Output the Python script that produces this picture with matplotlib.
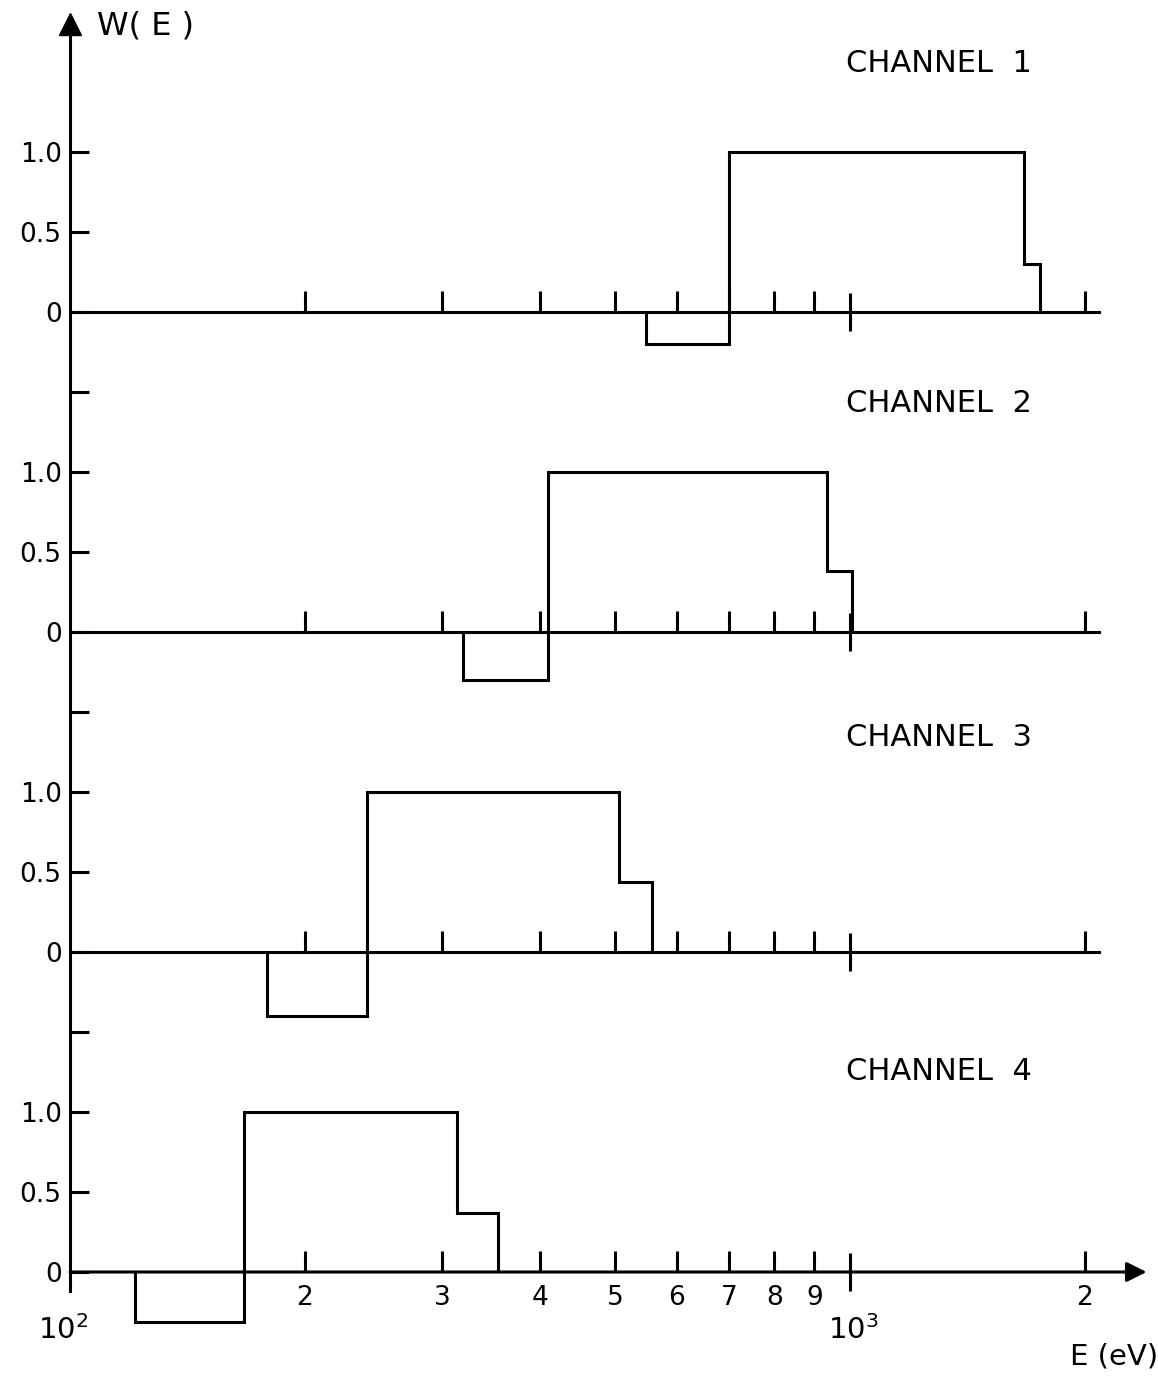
import matplotlib.pyplot as plt

plt.rcParams['font.family'] = ['DejaVu Sans']

channels = ['CHANNEL  1', 'CHANNEL  2', 'CHANNEL  3', 'CHANNEL  4']

# bin edges (eV) and weights of each channel's response W(E)
ch1_edges = [547, 700, 1670, 1750]
ch1_w = [-0.2, 1.0, 0.3]
ch2_edges = [319, 410, 934, 1005]
ch2_w = [-0.3, 1.0, 0.38]
ch3_edges = [179, 240, 505, 558]
ch3_w = [-0.4, 1.0, 0.44]
ch4_edges = [121, 167, 313, 354]
ch4_w = [-0.31, 1.0, 0.37]

edges = [ch1_edges, ch2_edges, ch3_edges, ch4_edges]
weights = [ch1_w, ch2_w, ch3_w, ch4_w]

minor_E = [200, 300, 400, 500, 600, 700, 800, 900, 2000]
minor_lab = ['2', '3', '4', '5', '6', '7', '8', '9', '2']
ytick_vals = [0, 0.5, 1.0]
ytick_lab = ['0', '0.5', '1.0']

fig = plt.figure(figsize=(11.58, 13.76), dpi=100)
ax = fig.add_axes([0, 0, 1, 1])
ax.set_xscale('log')
ax.set_xlim(10 ** (2 - 70 / 780), 10 ** (2 + 1088 / 780))
ax.set_ylim(-0.65, 7.95)

offsets = [6, 4, 2, 0]
title_dy = [1.55, 1.43, 1.34, 1.25]
lw = 2.2

for i, off in enumerate(offsets):
    w = [v + off for v in weights[i]]
    ax.stairs(w, edges[i], baseline=off, color='k', lw=lw)
    if off > 0:
        ax.plot([100, 2084], [off, off], color='k', lw=lw)
    else:
        ax.annotate('', xy=(2400, 0), xytext=(100, 0),
                    arrowprops=dict(arrowstyle='-|>', color='k', lw=lw,
                                    mutation_scale=30, shrinkA=0, shrinkB=0))
    ax.vlines(minor_E, off, off + 0.13, color='k', lw=lw)
    ax.vlines(1000, off - 0.12, off + 0.12, color='k', lw=lw)
    ax.text(1300, off + title_dy[i], channels[i], fontsize=22,
            ha='center', va='center')

# y axis with per-channel ticks
yt, yl = [], []
for off in offsets:
    if off > 0:
        yt.append(off - 0.5)
        yl.append('')
    for v, l in zip(ytick_vals, ytick_lab):
        yt.append(off + v)
        yl.append(l)
ax.set_yticks(yt, yl)
for s in ['top', 'right', 'bottom']:
    ax.spines[s].set_visible(False)
ax.spines['left'].set_position(('data', 100))
ax.spines['left'].set_bounds(-0.12, 7.8)
ax.spines['left'].set_linewidth(lw)
ax.tick_params(axis='y', direction='in', length=14, width=lw, pad=6, labelsize=19)
ax.tick_params(axis='x', which='both', bottom=False, labelbottom=False)
ax.plot(100, 7.8, marker='^', ms=16, color='k', clip_on=False)

# x tick labels
for e, l in zip(minor_E, minor_lab):
    ax.text(e, -0.16, l, fontsize=19, ha='center', va='center')
ax.text(98, -0.36, r'$\mathregular{10^2}$', fontsize=21, ha='center', va='center')
ax.text(1010, -0.36, r'$\mathregular{10^3}$', fontsize=21, ha='center', va='center')

ax.text(125, 7.79, 'W( E )', fontsize=23, ha='center', va='center')
ax.text(2180, -0.53, 'E (eV)', fontsize=21, ha='center', va='center')

fig.savefig('out.png', dpi=100)
